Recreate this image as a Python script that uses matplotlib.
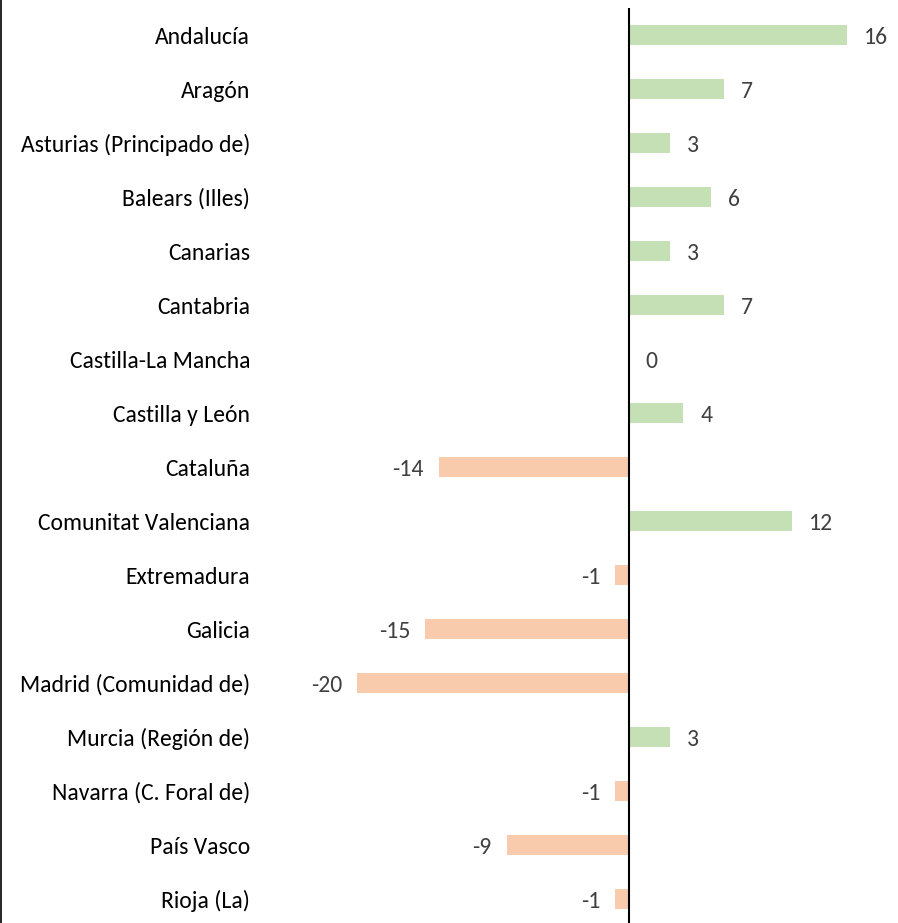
import matplotlib
matplotlib.use("Agg")
import matplotlib.pyplot as plt
from matplotlib.lines import Line2D

categories = ["Andalucía", "Aragón", "Asturias (Principado de)", "Balears (Illes)",
              "Canarias", "Cantabria", "Castilla-La Mancha", "Castilla y León",
              "Cataluña", "Comunitat Valenciana", "Extremadura", "Galicia",
              "Madrid (Comunidad de)", "Murcia (Región de)", "Navarra (C. Foral de)",
              "País Vasco", "Rioja (La)"]
values = [16, 7, 3, 6, 3, 7, 0, 4, -14, 12, -1, -15, -20, 3, -1, -9, -1]

plt.rcParams['font.family'] = ['Carlito', 'Lato', 'DejaVu Sans']

W, H = 898, 923
fig = plt.figure(figsize=(W/100, H/100), dpi=100)
left_px = 260
zero_px = 629
scale = 13.6  # px per unit
ax = fig.add_axes([left_px/W, 0, 1 - left_px/W, 1 - 8/H])
ax.set_xlim(-(zero_px-left_px)/scale, (W-zero_px)/scale)
n = len(categories)
ax.set_ylim((923-35)/54, -0.5)

green = "#C5E0B4"
orange = "#F8CBAD"
ypos = list(range(n))
colors = [green if v >= 0 else orange for v in values]
ax.barh(ypos, values, height=0.37, color=colors, zorder=2)

fs_val = 17
for y, v in zip(ypos, values):
    if v > 0:
        ax.annotate(str(v), (v, y), xytext=(17, 0), textcoords='offset pixels',
                    ha='left', va='center_baseline', fontsize=fs_val, color='#404040')
    elif v == 0:
        ax.annotate(str(v), (v, y), xytext=(16, 0), textcoords='offset pixels',
                    ha='left', va='center_baseline', fontsize=fs_val, color='#404040')
    else:
        ax.annotate(str(v), (v, y), xytext=(-15, 0), textcoords='offset pixels',
                    ha='right', va='center_baseline', fontsize=fs_val, color='#404040')

ax.axvline(0, color='black', lw=1.5, zorder=3)
for s in ax.spines.values():
    s.set_visible(False)
ax.set_xticks([])
ax.set_yticks(ypos)
ax.set_yticklabels(categories, fontsize=17, color='black', va='center_baseline')
ax.tick_params(axis='y', length=0, pad=7)

fig.add_artist(Line2D([0.5/W, 0.5/W], [0, 1], color='black', lw=1.2,
                      transform=fig.transFigure))

fig.savefig("out.png", dpi=100)
